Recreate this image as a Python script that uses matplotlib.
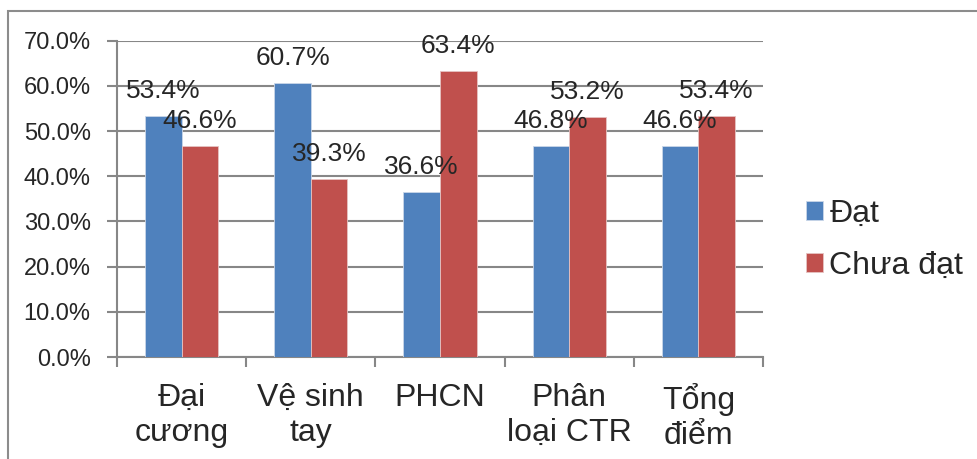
import numpy as np
import matplotlib.pyplot as plt
from matplotlib.patches import Rectangle

plt.rcParams['font.family'] = ['Liberation Sans', 'DejaVu Sans']

categories = ['Đại\ncương', 'Vệ sinh\ntay', 'PHCN', 'Phân\nloại CTR', 'Tổng\nđiểm']
dat = [53.4, 60.7, 36.6, 46.8, 46.6]
chua_dat = [46.6, 39.3, 63.4, 53.2, 53.4]
series_names = ['Đạt', 'Chưa đạt']
colors = ['#4F81BD', '#C0504D']
txt = '#262626'
grid = '#878787'

fig = plt.figure(figsize=(9.78, 4.59), dpi=100)
# chart border (only left and top sides show in the crop)
fig.patches.append(Rectangle((8 / 978, -0.5), 2, 1.5 - 11 / 459, transform=fig.transFigure,
                             fill=False, edgecolor='#8c8c8c', linewidth=1.5))
ax = fig.add_axes([117 / 978, 102 / 459, 646 / 978, 316.3 / 459])

x = np.arange(len(categories))
w = 0.283
b1 = ax.bar(x - w / 2, dat, w, color=colors[0], edgecolor='#c9d6e8', linewidth=0.6,
            label=series_names[0], zorder=3)
b2 = ax.bar(x + w / 2, chua_dat, w, color=colors[1], edgecolor='#e6c3c2', linewidth=0.6,
            label=series_names[1], zorder=3)

for bars, vals in [(b1, dat), (b2, chua_dat)]:
    for r, v in zip(bars, vals):
        ax.annotate('%.1f%%' % v, (r.get_x() + r.get_width() / 2, v),
                    xytext=(0, 18), textcoords='offset points', ha='center', va='center',
                    fontsize=19, color=txt, zorder=5)

ax.set_xlim(-0.5, len(categories) - 0.5)
ax.set_ylim(0, 70)
ax.set_yticks(np.arange(0, 71, 10))
ax.set_yticklabels(['%.1f%%' % t for t in np.arange(0, 71, 10)])
ax.yaxis.grid(True, color=grid, linewidth=1.5, zorder=0)
ax.set_axisbelow(True)

ax.set_xticks(x)
ax.set_xticklabels(categories, linespacing=1.2, fontsize=23)
ax.set_xticks(np.arange(-0.5, len(categories)), minor=True)
ax.tick_params(axis='x', which='major', length=0, pad=19)
ax.tick_params(axis='x', which='minor', length=7, width=1.5, color=grid)
ax.tick_params(axis='y', length=7, width=1.5, color=grid, pad=12, labelsize=17)
ax.tick_params(labelcolor=txt)

for s in ['top', 'right']:
    ax.spines[s].set_visible(False)
for s in ['left', 'bottom']:
    ax.spines[s].set_color(grid)
    ax.spines[s].set_linewidth(1.5)

fig.legend(handles=[b1, b2], labels=series_names, loc='center left',
           bbox_to_anchor=(806 / 978, 1 - 240 / 459), frameon=False, fontsize=23,
           borderpad=0, borderaxespad=0,
           handlelength=0.53, handleheight=0.53, handletextpad=0.2, labelspacing=0.68,
           labelcolor=txt)

fig.savefig('out.png', dpi=100)
